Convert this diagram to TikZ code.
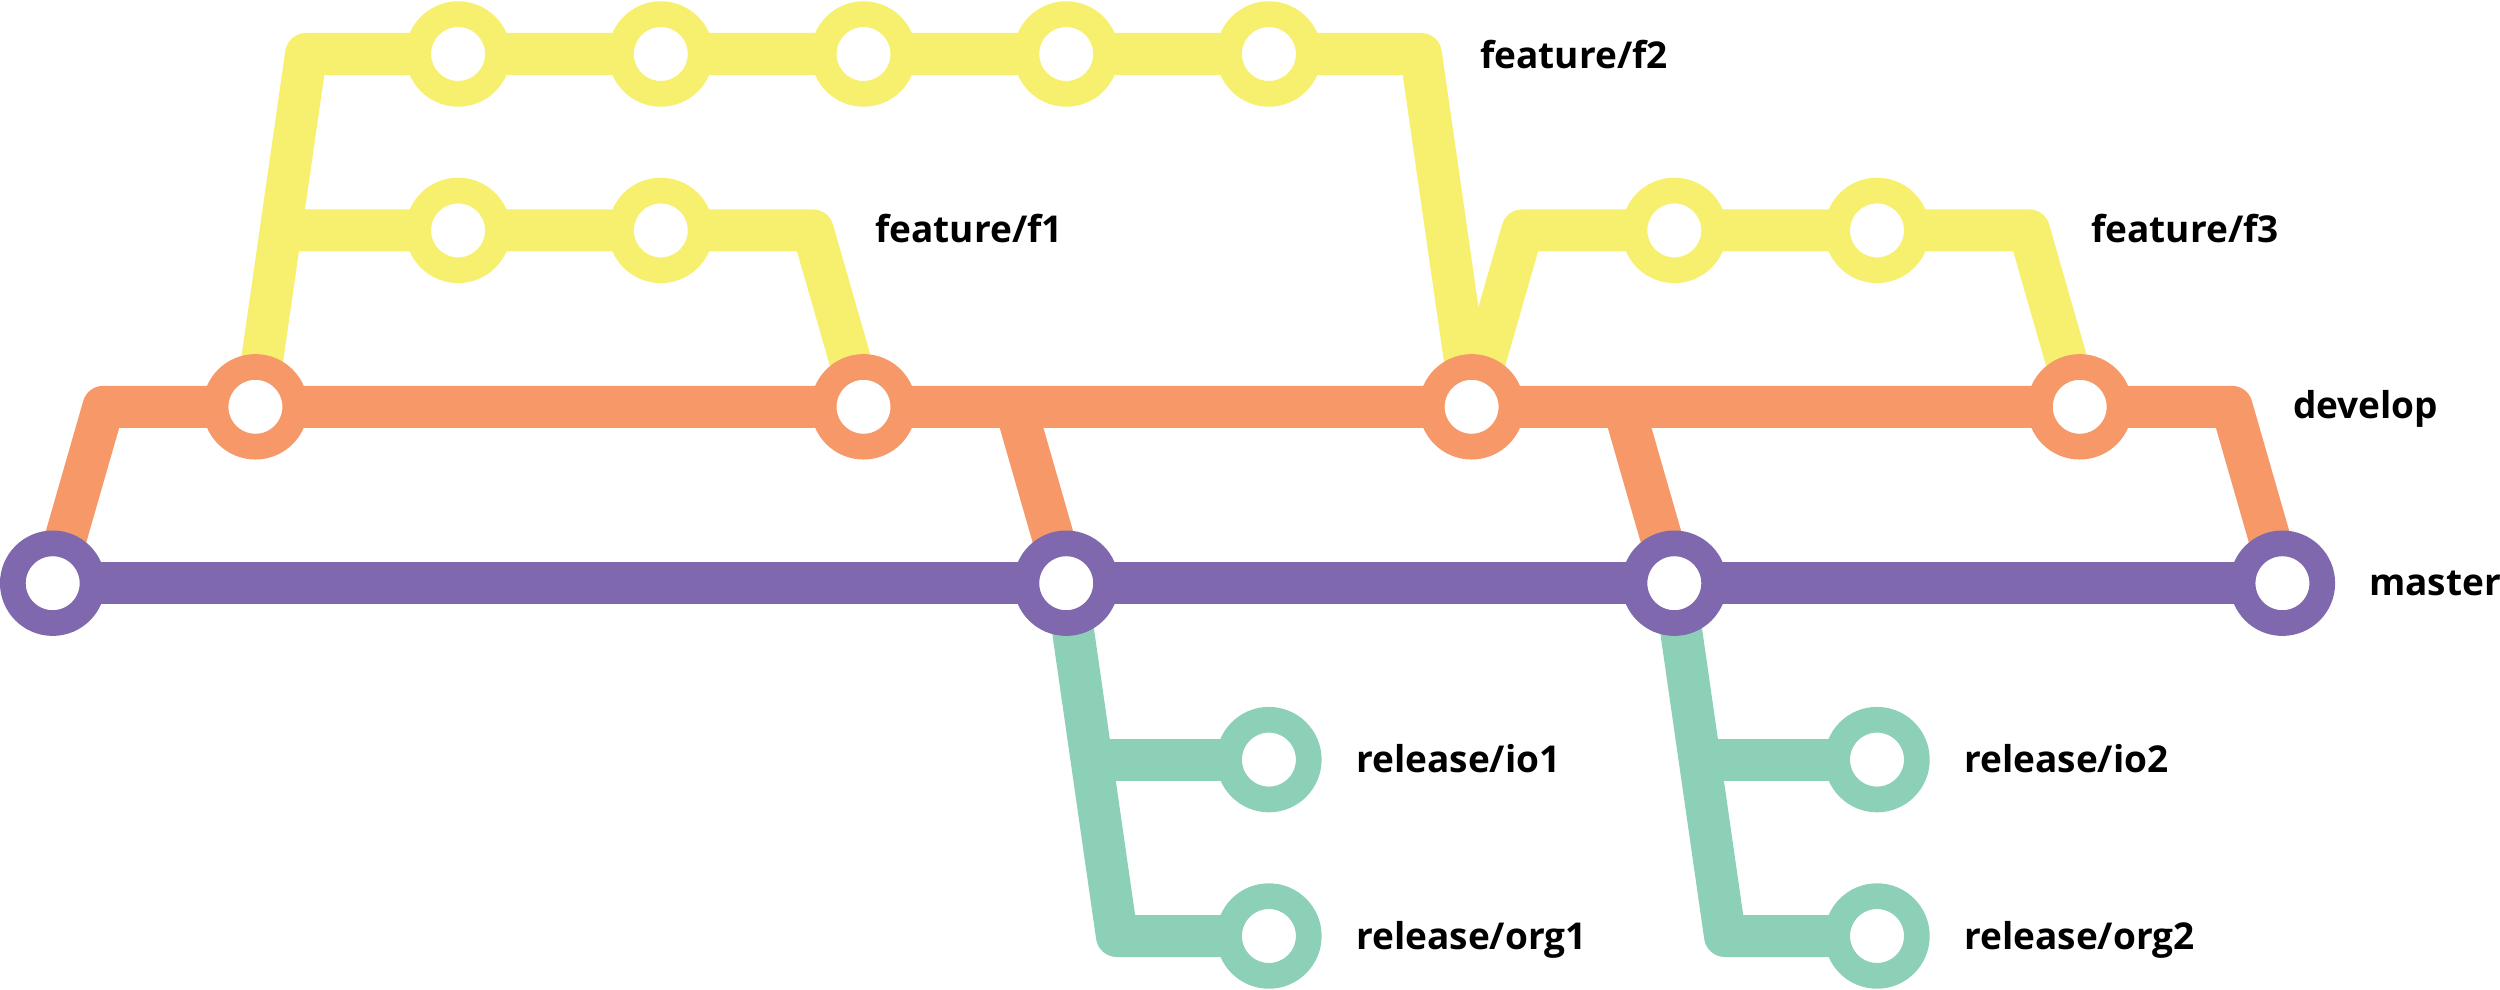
\documentclass[tikz,border=0pt]{standalone}
\usepackage{fontspec}
\newfontfamily\lblfont{Open Sans}
\usetikzlibrary{backgrounds}
\definecolor{cyel}{HTML}{F6F06E}
\definecolor{corg}{HTML}{F69868}
\definecolor{cpur}{HTML}{7F68AE}
\definecolor{cteal}{HTML}{8DD0B8}
\begin{document}
\begin{tikzpicture}[x=1pt,y=-1pt,
  commit/.style={circle,inner sep=0pt,minimum size=79.7pt,line width=25.7pt,fill=white,draw=#1},
  track/.style={line width=42pt,line join=round,draw=#1},
  lbl/.style={anchor=base west,inner sep=0pt,font=\lblfont\bfseries\fontsize{37}{44}\selectfont}]
\useasboundingbox (0,0) rectangle (2500,990);
% commits
\node[commit=cpur] (m0) at (52.7,583.2) {};
\node[commit=cpur] (m5) at (1066.2,583.2) {};
\node[commit=cpur] (m8) at (1674.3,583.2) {};
\node[commit=cpur] (m11) at (2282.4,583.2) {};
\node[commit=corg] (d1) at (255.4,406.8) {};
\node[commit=corg] (d4) at (863.5,406.8) {};
\node[commit=corg] (d7) at (1471.6,406.8) {};
\node[commit=corg] (d10) at (2079.7,406.8) {};
\node[commit=cyel] (a2) at (458.1,230.4) {};
\node[commit=cyel] (a3) at (660.8,230.4) {};
\node[commit=cyel] (b2) at (458.1,54) {};
\node[commit=cyel] (b3) at (660.8,54) {};
\node[commit=cyel] (b4) at (863.5,54) {};
\node[commit=cyel] (b5) at (1066.2,54) {};
\node[commit=cyel] (b6) at (1268.9,54) {};
\node[commit=cyel] (c8) at (1674.3,230.4) {};
\node[commit=cyel] (c9) at (1877.0,230.4) {};
\node[commit=cteal] (r1io) at (1268.9,759.6) {};
\node[commit=cteal] (r1org) at (1268.9,936) {};
\node[commit=cteal] (r2io) at (1877.0,759.6) {};
\node[commit=cteal] (r2org) at (1877.0,936) {};
% corners and junctions
\coordinate (dL) at (103.4,406.8);
\coordinate (dR) at (2231.7,406.8);
\coordinate (f2L) at (306.1,54);
\coordinate (f2R) at (1420.9,54);
\coordinate (f1L) at (280.7,230.4);
\coordinate (f1R) at (812.8,230.4);
\coordinate (f3L) at (1522.3,230.4);
\coordinate (f3R) at (2029.0,230.4);
\coordinate (mg1) at (1015.5,406.8);
\coordinate (mg2) at (1623.6,406.8);
\coordinate (rc1) at (1116.9,936);
\coordinate (rj1) at (1091.5,759.6);
\coordinate (rc2) at (1725.0,936);
\coordinate (rj2) at (1699.6,759.6);
\begin{pgfonlayer}{background}
\draw[track=cyel] (d1.center) -- (f2L) -- (f2R) -- (d7.center);
\draw[track=cyel] (f1L) -- (f1R) -- (d4.center);
\draw[track=cyel] (d7.center) -- (f3L) -- (f3R) -- (d10.center);
\draw[track=cteal] (m5.center) -- (rc1) -- (r1org.center);
\draw[track=cteal] (rj1) -- (r1io.center);
\draw[track=cteal] (m8.center) -- (rc2) -- (r2org.center);
\draw[track=cteal] (rj2) -- (r2io.center);
\draw[track=corg] (m0.center) -- (dL) -- (dR) -- (m11.center);
\draw[track=corg] (mg1) -- (m5.center);
\draw[track=corg] (mg2) -- (m8.center);
\draw[track=cpur] (m0.center) -- (m11.center);
\end{pgfonlayer}
% labels
\node[lbl] (lf2) at (1480,68) {feature/f2};
\node[lbl] (lf1) at (875,242.7) {feature/f1};
\node[lbl] (lf3) at (2091,242.7) {feature/f3};
\node[lbl] (ldev) at (2293,418) {develop};
\node[lbl] (lmas) at (2369,595) {master};
\node[lbl] (lio1) at (1356,772) {release/io1};
\node[lbl] (lorg1) at (1356,949) {release/org1};
\node[lbl] (lio2) at (1964,772) {release/io2};
\node[lbl] (lorg2) at (1964,949) {release/org2};
\end{tikzpicture}
\end{document}
